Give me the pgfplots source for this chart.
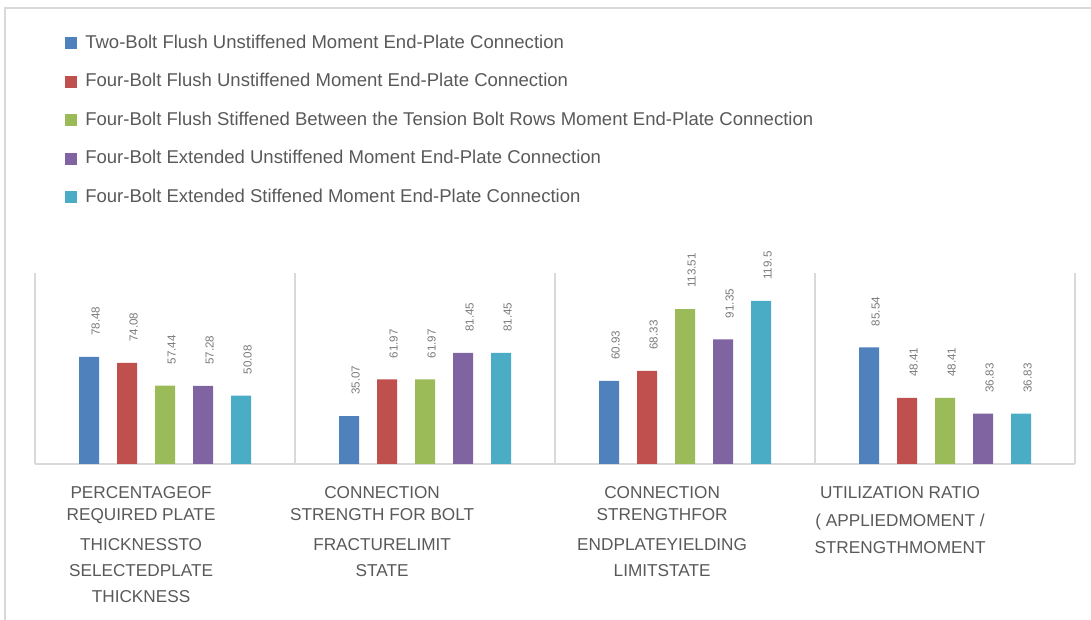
\documentclass[border=0pt]{standalone}
\usepackage{fontspec}
\setmainfont{Liberation Sans}
\usepackage{pgfplots}
\pgfplotsset{compat=1.18}

\definecolor{sBlue}{HTML}{4F81BD}
\definecolor{sRed}{HTML}{C0504D}
\definecolor{sGreen}{HTML}{9BBB59}
\definecolor{sPurple}{HTML}{8064A2}
\definecolor{sCyan}{HTML}{4BACC6}
\definecolor{txt}{HTML}{595959}
\definecolor{vlbl}{HTML}{7A7A7A}
\definecolor{rule}{HTML}{D9D9D9}

\begin{document}
\begin{tikzpicture}[x=1pt,y=1pt]
\useasboundingbox (0,0) rectangle (818.25,465);
% outer chart frame
\draw[rule, line width=1.1pt] (3.75,0) -- (3.75,459) -- (818.25,459);
\begin{axis}[
  at={(26.25pt,117pt)}, anchor=south west,
  scale only axis, width=780pt, height=143.25pt,
  xmin=-0.5, xmax=3.5, ymin=0, ymax=140,
  ybar=13.5pt, bar width=15pt,
  clip=false,
  axis x line*=bottom, axis y line*=left,
  axis line style={draw=rule, line width=1pt, -},
  ytick=\empty,
  xtick={-0.092,0.835,1.912,2.827},
  xticklabels={
    {PERCENTAGEOF\\REQUIRED PLATE\\[6pt]THICKNESSTO\\[3pt]SELECTEDPLATE\\[3pt]THICKNESS},
    {CONNECTION\\STRENGTH FOR BOLT\\[6pt]FRACTURELIMIT\\[3pt]STATE},
    {CONNECTION\\STRENGTHFOR\\[6pt]ENDPLATEYIELDING\\[3pt]LIMITSTATE},
    {UTILIZATION RATIO\\[4.5pt]( APPLIEDMOMENT /\\[3.75pt]STRENGTHMOMENT}},
  major tick length=0pt,
  xticklabel style={align=center, font=\fontsize{12.9}{16.5}\selectfont,
    text=txt, anchor=north, inner sep=0pt, yshift=-16.5pt},
  extra x ticks={0.5,1.5,2.5,3.5},
  extra x tick labels={},
  extra x tick style={grid=major, major grid style={draw=rule, line width=1pt}},
  /pgf/number format/assume math mode=true,
  nodes near coords,
  every node near coord/.append style={font=\fontsize{8.7}{10}\selectfont,
    text=vlbl, xshift=5pt, yshift=15.75pt, rotate=90, anchor=west, inner sep=0pt},
  legend style={at={(axis description cs:0.02885,2.2775)}, anchor=north west,
    draw=none, fill=none, inner sep=0pt, row sep=11.1pt, column sep=6pt,
    font=\fontsize{13.9}{16}\selectfont, text=txt,
    nodes={inner sep=0pt, text height=11pt, text depth=3.5pt}},
  legend cell align=left,
  legend image code/.code={\fill[#1, draw=none] (0pt,-4.5pt) rectangle (9pt,4.5pt);
    \path (0pt,10.5pt);},
]
\addplot[fill=sBlue, draw=none] coordinates {(0,78.48) (1,35.07) (2,60.93) (3,85.54)};
\addplot[fill=sRed, draw=none] coordinates {(0,74.08) (1,61.97) (2,68.33) (3,48.41)};
\addplot[fill=sGreen, draw=none] coordinates {(0,57.44) (1,61.97) (2,113.51) (3,48.41)};
\addplot[fill=sPurple, draw=none] coordinates {(0,57.28) (1,81.45) (2,91.35) (3,36.83)};
\addplot[fill=sCyan, draw=none] coordinates {(0,50.08) (1,81.45) (2,119.5) (3,36.83)};
\legend{Two-Bolt Flush Unstiffened Moment End-Plate Connection,
  Four-Bolt Flush Unstiffened Moment End-Plate Connection,
  Four-Bolt Flush Stiffened Between the Tension Bolt Rows Moment End-Plate Connection,
  Four-Bolt Extended Unstiffened Moment End-Plate Connection,
  Four-Bolt Extended Stiffened Moment End-Plate Connection}
\end{axis}
\end{tikzpicture}
\end{document}
